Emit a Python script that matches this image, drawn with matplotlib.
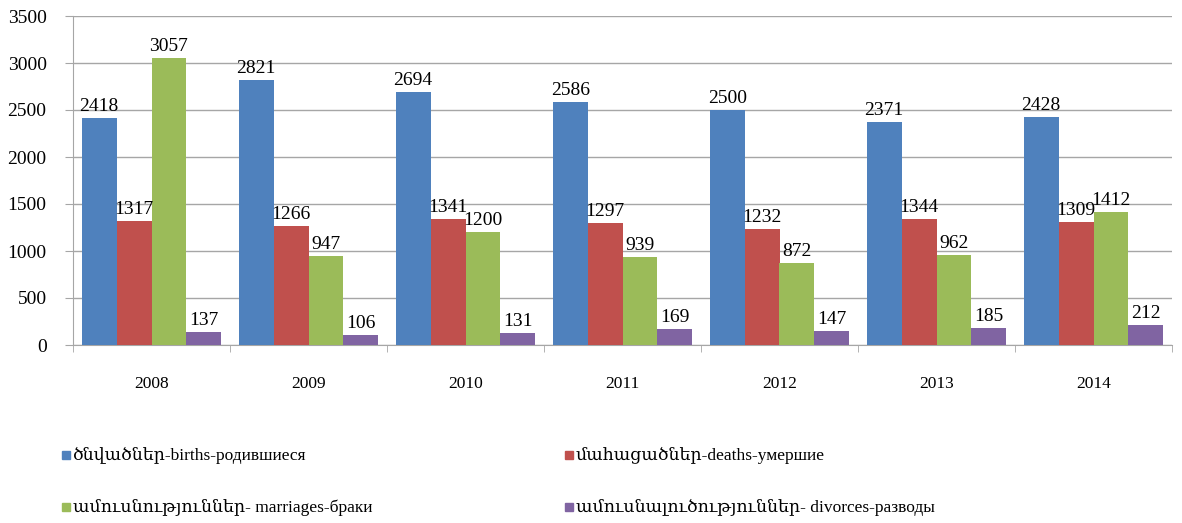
import matplotlib.pyplot as plt
from matplotlib.patches import Rectangle
import numpy as np

plt.rcParams['font.family'] = ['Liberation Serif', 'DejaVu Serif']

years = ['2008', '2009', '2010', '2011', '2012', '2013', '2014']
births = [2418, 2821, 2694, 2586, 2500, 2371, 2428]
deaths = [1317, 1266, 1341, 1297, 1232, 1344, 1309]
marriages = [3057, 947, 1200, 939, 872, 962, 1412]
divorces = [137, 106, 131, 169, 147, 185, 212]

labels = ['ծնվածներ-births-родившиеся',
          'մահացածներ-deaths-умершие',
          'ամուսնություններ- marriages-браки',
          'ամուսնալուծություններ- divorces-разводы']
colors = ['#4F81BD', '#C0504D', '#9BBB59', '#8064A2']
series = [births, deaths, marriages, divorces]

fig = plt.figure(figsize=(11.82, 5.23), dpi=100)
ax = fig.add_axes([73 / 1182, 178 / 523, 1099 / 1182, 329 / 523])

x = np.arange(len(years))
w = 1 / 4.5
for i, (vals, c) in enumerate(zip(series, colors)):
    pos = x - 1.5 * w + i * w
    ax.bar(pos, vals, width=w, color=c, zorder=3)
    for p, v in zip(pos, vals):
        ax.text(p, v + 30, str(v), ha='center', va='bottom', fontsize=14, zorder=4)

ax.set_xlim(-0.5, len(years) - 0.5)
ax.set_ylim(0, 3500)
ax.set_yticks(range(0, 3501, 500))
ax.yaxis.grid(True, color='#A6A6A6', linewidth=1, zorder=0)
ax.set_xticks(x)
ax.set_xticklabels(years)
ax.set_xticks(np.arange(-0.5, len(years)), minor=True)
ax.tick_params(axis='x', which='major', length=0, pad=22, labelsize=12.5)
ax.tick_params(axis='x', which='minor', length=5, color='#A6A6A6')
ax.tick_params(axis='y', length=6, color='#A6A6A6', labelsize=14, pad=13)
for s in ['top', 'right']:
    ax.spines[s].set_visible(False)
ax.spines['left'].set_color('#A6A6A6')
ax.spines['bottom'].set_color('#A6A6A6')

# legend laid out in two rows of two
leg_pos = [(62, 455), (565, 455), (62, 507), (565, 507)]
for (lx, ly), lab, c in zip(leg_pos, labels, colors):
    fig.add_artist(Rectangle((lx / 1182, (523 - ly - 4) / 523), 8 / 1182, 8 / 523,
                             color=c, transform=fig.transFigure))
    fig.text((lx + 11) / 1182, (523 - ly) / 523, lab, fontsize=12.5, va='center', ha='left')

fig.savefig('out.png', dpi=100)
